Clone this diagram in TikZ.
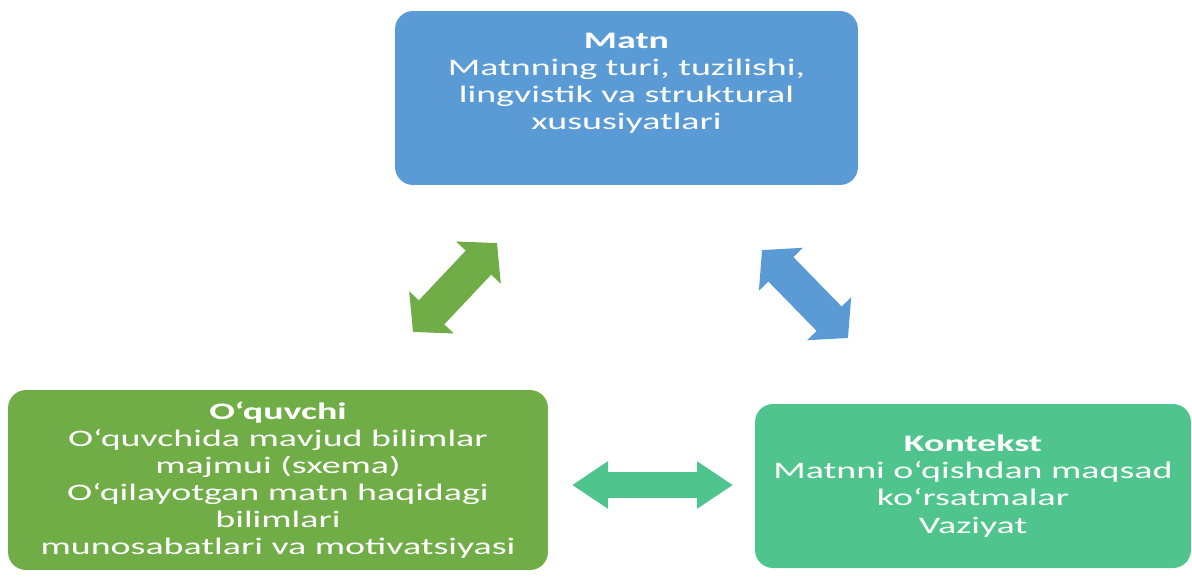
\documentclass[tikz,border=0pt]{standalone}
\usepackage{fontspec}
\setmainfont[FakeStretch=1.6]{Carlito}
\usepackage{xcolor}
\usetikzlibrary{arrows.meta,positioning}
\definecolor{matnblue}{HTML}{5B9BD5}
\definecolor{learnergreen}{HTML}{70AD47}
\definecolor{contextgreen}{HTML}{4FC58D}

\begin{document}
\begin{tikzpicture}[
    x=0.02cm, y=-0.02cm,
    box/.style={rectangle, rounded corners=0.36cm, draw=none, text=white, align=center, inner sep=0pt, font=\fontsize{13.5}{15.4}\selectfont},
    boxtext/.style={text=white, align=center, inner sep=0pt, font=\fontsize{13.5}{15.4}\selectfont},
    link/.style={line width=0.7cm, {Triangle[length=0.54cm, width=1.2cm]}-{Triangle[length=0.54cm, width=1.2cm]}},
    flatlink/.style={line width=0.52cm, {Triangle[length=0.72cm, width=0.9cm]}-{Triangle[length=0.72cm, width=0.9cm]}}
]
    \useasboundingbox (0,0) rectangle (1192,576);

    % Top: the text itself
    \node [box, fill=matnblue, minimum width=9.26cm, minimum height=3.48cm] (matn) at (626.5,98) {};
    \node [boxtext] (matnlabel) at ([yshift=0.3cm]matn.center) {\textbf{Matn}\\Matnning turi, tuzilishi,\\lingvistik va struktural\\xususiyatlari};

    % Bottom left: the reader
    \node [box, fill=learnergreen, minimum width=10.8cm, minimum height=3.6cm] (oquvchi) at (278,480)
        {\textbf{O‘quvchi}\\O‘quvchida mavjud bilimlar\\majmui (sxema)\\O‘qilayotgan matn haqidagi\\bilimlari\\munosabatlari va motivatsiyasi};

    % Bottom right: the context
    \node [box, fill=contextgreen, minimum width=8.72cm, minimum height=3.28cm] (kontekst) at (973,486)
        {\textbf{Kontekst}\\Matnni o‘qishdan maqsad\\ko‘rsatmalar\\Vaziyat};

    % Arrow ends
    \coordinate (oquvchiend) at (413,332);
    \coordinate (matnleft) at (497,243);
    \coordinate (matnright) at (762,250);
    \coordinate (kontekstend) at (848,338);
    \coordinate (oquvchiside) at (572,485);
    \coordinate (kontekstside) at (733,485);

    % Two-way links
    \draw [link, learnergreen] (oquvchiend) -- (matnleft);
    \draw [link, matnblue] (matnright) -- (kontekstend);
    \draw [flatlink, contextgreen] (oquvchiside) -- (kontekstside);
\end{tikzpicture}
\end{document}
